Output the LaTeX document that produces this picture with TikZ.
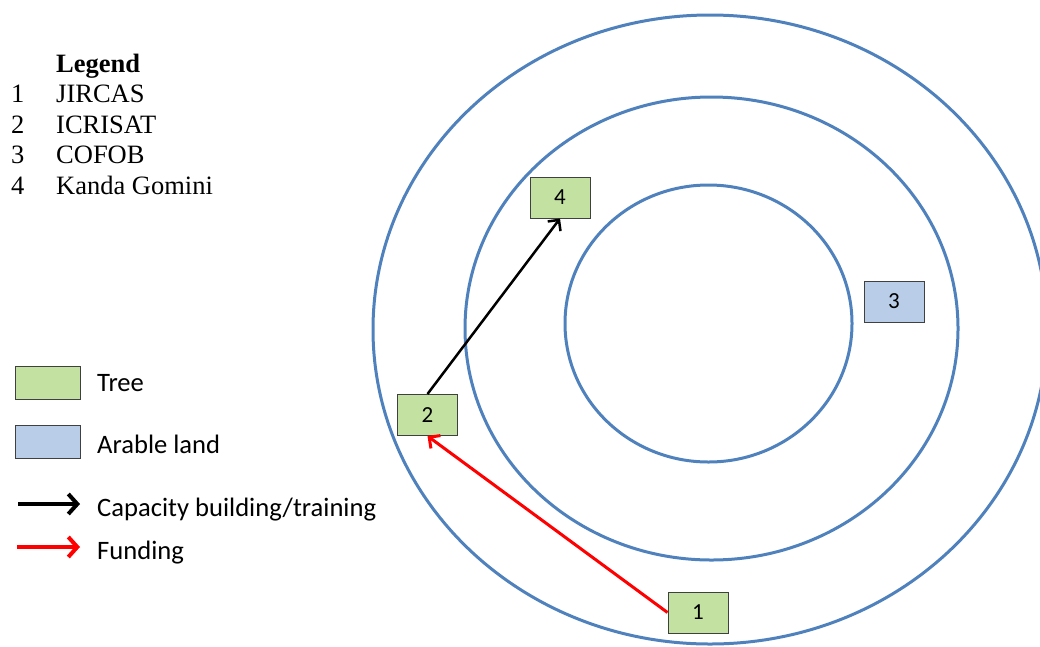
\documentclass[tikz,border=0pt]{standalone}
\usepackage{fontspec}
\setmainfont{Liberation Serif}
\newfontfamily\calfont{Carlito}
\usetikzlibrary{arrows.meta}
\definecolor{ringblue}{HTML}{4F81BD}
\definecolor{treegreen}{HTML}{C3E1A0}
\definecolor{landblue}{HTML}{B9CDE8}
\definecolor{boxedge}{HTML}{404040}
\tikzset{
  ring/.style={draw=ringblue, line width=3pt},
  treebox/.style={draw=boxedge, line width=1pt, fill=treegreen, minimum width=60pt, minimum height=41pt, inner sep=0pt, font=\calfont\fontsize{23}{26}\selectfont},
  landbox/.style={treebox, fill=landblue},
  serif/.style={anchor=base west, inner sep=0pt, font=\fontsize{26.5}{30}\selectfont},
  sans/.style={anchor=base west, inner sep=0pt, font=\calfont\fontsize{26.6}{30}\selectfont},
  caparrow/.style={black, line width=2.5pt, -{Straight Barb[length=8pt,width=16pt]}},
  fundarrow/.style={red, line width=3pt, -{Straight Barb[length=8pt,width=16pt]}},
}
\begin{document}
\begin{tikzpicture}[x=1pt,y=-1pt]
\useasboundingbox (0,0) rectangle (1040,646);
\begin{scope}
\clip (0,0) rectangle (1040,646);
\draw[ring] (710,329.5) ellipse [x radius=337pt, y radius=314.5pt];
\end{scope}
\draw[ring] (711.5,328.5) ellipse [x radius=246.5pt, y radius=231.5pt];
\draw[ring] (708.5,323.5) ellipse [x radius=143.5pt, y radius=138.5pt];

% legend text
\node[serif, font=\bfseries\fontsize{26.5}{30}\selectfont] (leg) at (56,72) {Legend};
\node[serif] (n1) at (11,102) {1};
\node[serif] (t1) at (56,102) {JIRCAS};
\node[serif] (n2) at (11,133) {2};
\node[serif] (t2) at (56,133) {ICRISAT};
\node[serif] (n3) at (11,163) {3};
\node[serif] (t3) at (56,163) {COFOB};
\node[serif] (n4) at (11,194) {4};
\node[serif] (t4) at (56,194) {Kanda Gomini};

% key
\node[treebox, minimum width=65pt, minimum height=33pt] (ktree) at (47.5,382.5) {};
\node[sans] (ltree) at (97,391) {Tree};
\node[landbox, minimum width=65pt, minimum height=33pt] (kland) at (47.5,441.5) {};
\node[sans] (lland) at (97,453) {Arable land};
\coordinate (ka1) at (18,504);
\coordinate (ka2) at (80,504);
\draw[black, line width=4pt, -{Straight Barb[length=9pt,width=20pt]}] (ka1) -- (ka2);
\node[sans] (lcap) at (97,516) {Capacity building/training};
\coordinate (kf1) at (17,547);
\coordinate (kf2) at (80,547);
\draw[red, line width=4pt, -{Straight Barb[length=9pt,width=20pt]}] (kf1) -- (kf2);
\node[sans] (lfund) at (97,559) {Funding};

% boxes
\node[treebox] (b4) at (560,197.5) {4};
\node[treebox] (b2) at (427.5,415) {2};
\node[treebox] (b1) at (698,612.5) {1};
\node[landbox] (b3) at (894,301.5) {3};

\draw[caparrow] (b2.north) -- (b4.south);
\draw[fundarrow] (b1.west) -- (b2.south);
\end{tikzpicture}
\end{document}
